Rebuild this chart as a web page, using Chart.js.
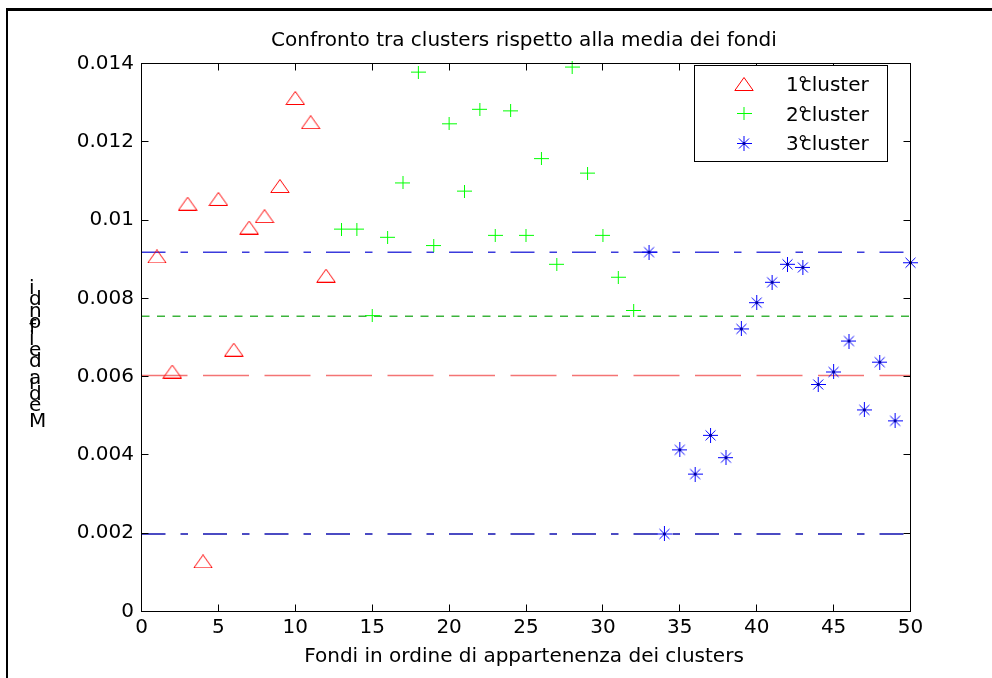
<!DOCTYPE html>
<html>
<head>
<meta charset="utf-8">
<title>Confronto tra clusters</title>
<style>
  html, body { margin: 0; padding: 0; background: #fff; }
  #chart { display: block; }
</style>
</head>
<body>
<canvas id="chart" width="992" height="678"></canvas>
<script src="https://cdn.jsdelivr.net/npm/chart.js@4.4.1/dist/chart.umd.min.js"></script>
<script>
// Data
const cluster1Funds = [1, 2, 3, 4, 5, 6, 7, 8, 9, 10, 11, 12];
const cluster1Means = [0.00907, 0.00613, 0.01042, 0.00128, 0.01054, 0.00669, 0.00981, 0.01010, 0.01087, 0.01312, 0.01250, 0.00858];

const cluster2Funds = [13, 14, 15, 16, 17, 18, 19, 20, 21, 22, 23, 24, 25, 26, 27, 28, 29, 30, 31, 32];
const cluster2Means = [0.00977, 0.00977, 0.00756, 0.00956, 0.01095, 0.01378, 0.00935, 0.01246, 0.01074, 0.01283,
                       0.00961, 0.01279, 0.00961, 0.01157, 0.00887, 0.01391, 0.01120, 0.00961, 0.00854, 0.00769];

const cluster3Funds = [33, 34, 35, 36, 37, 38, 39, 40, 41, 42, 43, 44, 45, 46, 47, 48, 49, 50];
const cluster3Means = [0.00918, 0.00198, 0.00413, 0.00351, 0.00450, 0.00393, 0.00722, 0.00789, 0.00841, 0.00887,
                       0.00879, 0.00580, 0.00612, 0.00691, 0.00515, 0.00637, 0.00487, 0.00891];

// horizontal reference levels: red, green, blue (max), blue (min)
const levelValues = [0.00603, 0.00754, 0.00918, 0.00198];
const levelSpan = [0, 50];

const clusterLabels = ['1°cluster', '2°cluster', '3°cluster'];
const xTickLabels = ['0', '5', '10', '15', '20', '25', '30', '35', '40', '45', '50'];
const yTickLabels = ['0', '0.002', '0.004', '0.006', '0.008', '0.01', '0.012', '0.014'];

const titleText = 'Confronto tra clusters rispetto alla media dei fondi';
const xTitleText = 'Fondi in ordine di appartenenza dei clusters';
const yTitleText = 'Media dei fondi';

const FONT = "'DejaVu Sans', sans-serif";
Chart.defaults.font.family = FONT;
Chart.defaults.font.size = 20;
Chart.defaults.color = '#000';

// marker glyphs (MATLAB style, slightly wide)
function makeMarker(w, h, draw) {
    const c = document.createElement('canvas');
    c.width = w;
    c.height = h;
    draw(c.getContext('2d'), w, h);
    return c;
}

const triangleMarker = makeMarker(20, 14, (g) => {
    g.strokeStyle = '#ff0000';
    g.lineWidth = 1;
    g.beginPath();
    g.moveTo(10, 0.5);
    g.lineTo(19.2, 13.5);
    g.lineTo(0.8, 13.5);
    g.closePath();
    g.stroke();
});

const plusMarker = makeMarker(15, 13, (g) => {
    g.fillStyle = '#00ff00';
    g.fillRect(0, 6, 15, 1);
    g.fillRect(7, 0, 1, 13);
});

const starMarker = makeMarker(15, 15, (g) => {
    g.fillStyle = '#0000ff';
    g.strokeStyle = '#0000ff';
    g.fillRect(0, 7, 15, 1);
    g.fillRect(7, 0, 1, 15);
    g.lineWidth = 1;
    g.beginPath();
    g.moveTo(2.5, 2.5); g.lineTo(12.5, 12.5);
    g.moveTo(12.5, 2.5); g.lineTo(2.5, 12.5);
    g.stroke();
    g.fillStyle = '#0000aa';
    g.fillRect(6, 6, 3, 3);
});

const clusterMarkers = [triangleMarker, plusMarker, starMarker];

function toPoints(xs, ys) {
    return xs.map((x, i) => ({ x: x, y: ys[i] }));
}

function levelLine(v) {
    return levelSpan.map(x => ({ x: x, y: v }));
}

const levelStyles = [
    { color: '#f47474', dash: [46, 15.5], width: 1.5 },
    { color: '#3cb43c', dash: [8, 7.5], width: 1.5 },
    { color: '#3b3bdc', dash: [24, 15, 7.5, 15], width: 1.5 },
    { color: '#1010b0', dash: [24, 15, 7.5, 15], width: 1.5 }
];

const clusterSeries = [
    toPoints(cluster1Funds, cluster1Means),
    toPoints(cluster2Funds, cluster2Means),
    toPoints(cluster3Funds, cluster3Means)
];

const datasets = [];
clusterSeries.forEach((pts, i) => {
    datasets.push({
        label: clusterLabels[i],
        data: pts,
        pointStyle: clusterMarkers[i],
        pointRadius: 8,
        showLine: false,
        clip: false,
        order: 1
    });
});
levelValues.forEach((v, i) => {
    const s = levelStyles[i];
    datasets.push({
        label: 'level' + i,
        data: levelLine(v),
        showLine: true,
        pointRadius: 0,
        borderColor: s.color,
        borderWidth: s.width,
        borderDash: s.dash,
        borderCapStyle: 'butt',
        fill: false,
        order: 2
    });
});

// frame, title, axis titles, inward ticks and legend box
const decorations = {
    id: 'decorations',
    beforeDraw(chart) {
        const ctx = chart.ctx;
        ctx.save();
        ctx.fillStyle = '#fff';
        ctx.fillRect(0, 0, chart.width, chart.height);
        ctx.fillStyle = '#000';
        ctx.fillRect(6, 8, 986, 3);
        ctx.fillRect(6, 8, 2, 670);
        ctx.restore();
    },
    afterDatasetsDraw(chart) {
        const ctx = chart.ctx;
        const a = chart.chartArea;
        const xs = chart.scales.x;
        const ys = chart.scales.y;
        const snap = p => Math.round(p - 0.5) + 0.5;
        ctx.save();
        ctx.strokeStyle = '#000';
        ctx.lineWidth = 1;
        ctx.beginPath();
        xs.ticks.forEach(t => {
            const px = snap(xs.getPixelForValue(t.value));
            ctx.moveTo(px, a.bottom); ctx.lineTo(px, a.bottom - 7);
            ctx.moveTo(px, a.top); ctx.lineTo(px, a.top + 7);
        });
        ys.ticks.forEach(t => {
            const py = snap(ys.getPixelForValue(t.value));
            ctx.moveTo(a.left, py); ctx.lineTo(a.left + 7, py);
            ctx.moveTo(a.right, py); ctx.lineTo(a.right - 7, py);
        });
        ctx.stroke();
        ctx.strokeRect(a.left, a.top, a.right - a.left, a.bottom - a.top);

        // title and axis titles
        ctx.fillStyle = '#000';
        ctx.font = '20px ' + FONT;
        ctx.textAlign = 'center';
        ctx.textBaseline = 'alphabetic';
        ctx.fillText(titleText, 524, 46);
        ctx.fillText(xTitleText, 524, 662);

        // y title: upright glyphs stacked bottom to top
        ctx.textAlign = 'left';
        let y = 427;
        for (const ch of yTitleText) {
            ctx.fillText(ch, 29, y);
            y -= ctx.measureText(ch).width * 0.9;
        }

        // legend
        const box = { left: 694.5, top: 65.5, width: 193, height: 96 };
        ctx.fillStyle = '#fff';
        ctx.fillRect(box.left, box.top, box.width, box.height);
        ctx.strokeRect(box.left, box.top, box.width, box.height);
        ctx.fillStyle = '#000';
        clusterLabels.forEach((label, i) => {
            const rowY = 84 + i * 29.5;
            const m = clusterMarkers[i];
            ctx.drawImage(m, 744 - m.width / 2, Math.round(rowY - m.height / 2));
            const num = label.slice(0, 1);
            const deg = label.slice(1, 2);
            const rest = label.slice(2);
            const base = rowY + 7.3;
            ctx.fillText(num, 786, base);
            const nw = ctx.measureText(num).width;
            ctx.fillText(deg, 786 + nw - 1, base);
            ctx.fillText(rest, 786 + nw + 2, base);
        });
        ctx.restore();
    }
};

new Chart(document.getElementById('chart'), {
    type: 'scatter',
    data: { datasets: datasets },
    options: {
        responsive: false,
        animation: false,
        devicePixelRatio: 1,
        events: [],
        layout: { padding: { top: 63.5, right: 81.5, bottom: 0, left: 0 } },
        plugins: {
            legend: { display: false },
            title: { display: false },
            tooltip: { enabled: false }
        },
        scales: {
            x: {
                type: 'linear',
                min: 0,
                max: 50,
                grid: { display: false, drawTicks: false },
                border: { display: false },
                ticks: {
                    stepSize: 5,
                    autoSkip: false,
                    maxRotation: 0,
                    padding: 4.5,
                    color: '#000',
                    callback: (v, i) => xTickLabels[i]
                },
                afterFit: s => { s.height = 66.5; }
            },
            y: {
                type: 'linear',
                min: 0,
                max: 0.014,
                grid: { display: false, drawTicks: false },
                border: { display: false },
                ticks: {
                    stepSize: 0.002,
                    autoSkip: false,
                    padding: 7.5,
                    color: '#000',
                    callback: (v, i) => yTickLabels[i]
                },
                afterFit: s => { s.width = 141.5; }
            }
        }
    },
    plugins: [decorations]
});
</script>
</body>
</html>
